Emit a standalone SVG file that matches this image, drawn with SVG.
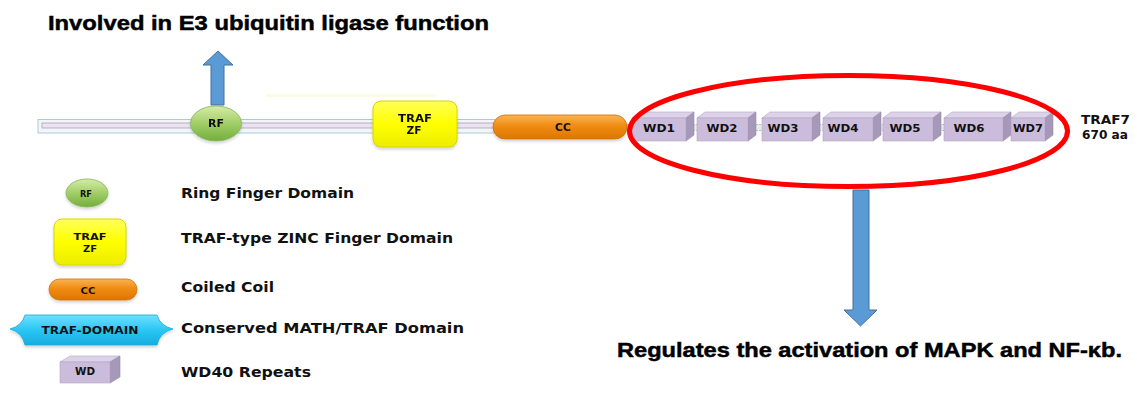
<svg xmlns="http://www.w3.org/2000/svg" width="1137" height="403" viewBox="0 0 1137 403">
<defs>
<linearGradient id="gGreen" x1="0" y1="0" x2="0" y2="1"><stop offset="0" stop-color="#d6eca6"/><stop offset="0.55" stop-color="#9ccb62"/><stop offset="1" stop-color="#74ad3e"/></linearGradient>
<linearGradient id="gYellow" x1="0" y1="0" x2="0" y2="1"><stop offset="0" stop-color="#ffff5a"/><stop offset="0.5" stop-color="#ffff00"/><stop offset="1" stop-color="#ecec00"/></linearGradient>
<linearGradient id="gOrange" x1="0" y1="0" x2="0" y2="1"><stop offset="0" stop-color="#f9b455"/><stop offset="0.45" stop-color="#f08c12"/><stop offset="1" stop-color="#dc7600"/></linearGradient>
<linearGradient id="gCyan" x1="0" y1="0" x2="0" y2="1"><stop offset="0" stop-color="#6fe0ff"/><stop offset="0.5" stop-color="#2cc6f4"/><stop offset="1" stop-color="#14addf"/></linearGradient>
<filter id="sh" x="-20%" y="-20%" width="140%" height="160%"><feGaussianBlur in="SourceAlpha" stdDeviation="1.5"/><feOffset dy="2" result="b"/><feFlood flood-color="#000" flood-opacity="0.18"/><feComposite in2="b" operator="in"/><feMerge><feMergeNode/><feMergeNode in="SourceGraphic"/></feMerge></filter>
</defs>
<style>
.lbl{font-family:"DejaVu Sans","Verdana",sans-serif;font-weight:bold;fill:#111;}
.big{font-family:"Liberation Sans",Arial,sans-serif;font-weight:bold;fill:#000;stroke:#000;stroke-width:0.5;}
.wdf{fill:#cbbcdb;stroke:#b2a4c4;stroke-width:0.6;}
.wdt{fill:#ddd3e9;stroke:#b2a4c4;stroke-width:0.6;}
.wds{fill:#a698b8;stroke:#9a8cae;stroke-width:0.6;}
.arrow{fill:#5b9bd5;stroke:#41719c;stroke-width:1;}
.rf{fill:url(#gGreen);stroke:#86b85a;stroke-width:0.8;}
.zf{fill:url(#gYellow);stroke:#d6d600;stroke-width:1;}
.cc{fill:url(#gOrange);stroke:#d07000;stroke-width:0.8;}
</style>
<rect width="1137" height="403" fill="#fff"/>

<text class="big" x="48" y="30" font-size="21" textLength="441" lengthAdjust="spacingAndGlyphs">Involved in E3 ubiquitin ligase function</text>

<rect x="266" y="94" width="170" height="3" fill="#fdfbe6"/>

<g id="backbone">
<rect x="38" y="119.5" width="458" height="13.5" fill="#f3f5f9" stroke="#a9c9e3" stroke-width="1"/>
<rect x="42" y="123" width="452" height="5" fill="#ebe3f0" stroke="#a8a2b2" stroke-width="0.8"/>
<rect x="615" y="124.5" width="400" height="6" fill="#e6ecec" stroke="#9fb6b6" stroke-width="0.8" stroke-dasharray="2 1"/>
</g>

<g id="connectors">
<polygon class="arrow" points="211,105 211,65 203,65 218,51 233,65 224,65 224,105"/>
<polygon class="arrow" points="853,190 869,190 869,310 877,310 860.5,326 844,310 853,310"/>
</g>

<g id="rf" filter="url(#sh)">
<ellipse class="rf" cx="216" cy="123.5" rx="25.5" ry="17.5"/>
<text class="lbl" x="216" y="127.3" font-size="10" text-anchor="middle" textLength="16" lengthAdjust="spacingAndGlyphs">RF</text>
</g>

<g id="traf-zf" filter="url(#sh)">
<rect class="zf" x="373" y="101" width="84" height="46" rx="8"/>
<text class="lbl" x="415" y="121.7" font-size="10" text-anchor="middle" textLength="34" lengthAdjust="spacingAndGlyphs">TRAF</text>
<text class="lbl" x="414" y="134" font-size="10" text-anchor="middle" textLength="15" lengthAdjust="spacingAndGlyphs">ZF</text>
</g>

<g id="cc" filter="url(#sh)">
<rect class="cc" x="493" y="115" width="134" height="24" rx="12"/>
<text class="lbl" x="563" y="130.5" font-size="10" text-anchor="middle" textLength="16" lengthAdjust="spacingAndGlyphs">CC</text>
</g>

<g id="wd1"><polygon class="wdt" points="632,118 640,112 694,112 686,118"/><polygon class="wds" points="686,118 694,112 694,135 686,141"/><rect class="wdf" x="632" y="118" width="54" height="23"/><text class="lbl" x="659" y="131.7" font-size="11" text-anchor="middle" textLength="32" lengthAdjust="spacingAndGlyphs">WD1</text></g>
<g id="wd2"><polygon class="wdt" points="697,118 705,112 756,112 748,118"/><polygon class="wds" points="748,118 756,112 756,135 748,141"/><rect class="wdf" x="697" y="118" width="51" height="23"/><text class="lbl" x="722" y="131.7" font-size="11" text-anchor="middle" textLength="31" lengthAdjust="spacingAndGlyphs">WD2</text></g>
<g id="wd3"><polygon class="wdt" points="762,118 770,112 820,112 812,118"/><polygon class="wds" points="812,118 820,112 820,135 812,141"/><rect class="wdf" x="762" y="118" width="50" height="23"/><text class="lbl" x="783" y="131.7" font-size="11" text-anchor="middle" textLength="31" lengthAdjust="spacingAndGlyphs">WD3</text></g>
<g id="wd4"><polygon class="wdt" points="823,118 831,112 881,112 873,118"/><polygon class="wds" points="873,118 881,112 881,135 873,141"/><rect class="wdf" x="823" y="118" width="50" height="23"/><text class="lbl" x="843" y="131.7" font-size="11" text-anchor="middle" textLength="31" lengthAdjust="spacingAndGlyphs">WD4</text></g>
<g id="wd5"><polygon class="wdt" points="883,118 891,112 941,112 933,118"/><polygon class="wds" points="933,118 941,112 941,135 933,141"/><rect class="wdf" x="883" y="118" width="50" height="23"/><text class="lbl" x="905" y="131.7" font-size="11" text-anchor="middle" textLength="31" lengthAdjust="spacingAndGlyphs">WD5</text></g>
<g id="wd6"><polygon class="wdt" points="944,118 952,112 1011,112 1003,118"/><polygon class="wds" points="1003,118 1011,112 1011,135 1003,141"/><rect class="wdf" x="944" y="118" width="59" height="23"/><text class="lbl" x="969" y="131.7" font-size="11" text-anchor="middle" textLength="31" lengthAdjust="spacingAndGlyphs">WD6</text></g>
<g id="wd7"><polygon class="wdt" points="1011,118 1019,112 1053,112 1045,118"/><polygon class="wds" points="1045,118 1053,112 1053,135 1045,141"/><rect class="wdf" x="1011" y="118" width="34" height="23"/><text class="lbl" x="1028" y="131.7" font-size="11" text-anchor="middle" textLength="30" lengthAdjust="spacingAndGlyphs">WD7</text></g>

<g id="highlight">
<ellipse cx="848.5" cy="131" rx="219" ry="55.5" fill="none" stroke="#ff0000" stroke-width="5"/>
</g>

<g id="traf7-label">
<text class="lbl" x="1081" y="124" font-size="12.5" textLength="49" lengthAdjust="spacingAndGlyphs">TRAF7</text>
<text class="lbl" x="1082" y="138.5" font-size="12.5" textLength="46" lengthAdjust="spacingAndGlyphs">670 aa</text>
</g>

<text class="big" x="617" y="357" font-size="21" textLength="505" lengthAdjust="spacingAndGlyphs">Regulates the activation of MAPK and NF-κb.</text>

<g id="legend-rf">
<ellipse class="rf" cx="87" cy="193" rx="21" ry="14" filter="url(#sh)"/>
<text class="lbl" x="86" y="196.5" font-size="9" text-anchor="middle" textLength="12" lengthAdjust="spacingAndGlyphs">RF</text>
<text class="lbl" x="181" y="197.5" font-size="13.5" textLength="173" lengthAdjust="spacingAndGlyphs">Ring Finger Domain</text>
</g>

<g id="legend-zf">
<rect class="zf" x="54" y="219" width="72" height="46" rx="8" filter="url(#sh)"/>
<text class="lbl" x="90" y="240" font-size="9.5" text-anchor="middle" textLength="33" lengthAdjust="spacingAndGlyphs">TRAF</text>
<text class="lbl" x="90" y="252" font-size="9.5" text-anchor="middle" textLength="14" lengthAdjust="spacingAndGlyphs">ZF</text>
<text class="lbl" x="181" y="243" font-size="13.5" textLength="272" lengthAdjust="spacingAndGlyphs">TRAF-type ZINC Finger Domain</text>
</g>

<g id="legend-cc">
<rect class="cc" x="49" y="279" width="88" height="21" rx="10.5" filter="url(#sh)"/>
<text class="lbl" x="88" y="293.5" font-size="9.5" text-anchor="middle" textLength="15" lengthAdjust="spacingAndGlyphs">CC</text>
<text class="lbl" x="181" y="292" font-size="13.5" textLength="93" lengthAdjust="spacingAndGlyphs">Coiled Coil</text>
</g>

<g id="legend-traf-domain">
<path d="M25,315 L157,315 Q160,326 173,329 Q160,332 157,345 L25,345 Q22,332 10,329 Q22,326 25,315 Z" fill="url(#gCyan)" stroke="#19a9d9" stroke-width="0.8" filter="url(#sh)"/>
<text class="lbl" x="90" y="334.3" font-size="10" text-anchor="middle" textLength="97" lengthAdjust="spacingAndGlyphs">TRAF-DOMAIN</text>
<text class="lbl" x="181" y="333" font-size="13.5" textLength="283" lengthAdjust="spacingAndGlyphs">Conserved MATH/TRAF Domain</text>
</g>

<g id="legend-wd">
<polygon class="wdt" points="60,362 70,356 120,356 110,362"/>
<polygon class="wds" points="110,362 120,356 120,377 110,383"/>
<rect class="wdf" x="60" y="362" width="50" height="21"/>
<text class="lbl" x="85" y="374.5" font-size="10" text-anchor="middle" textLength="20" lengthAdjust="spacingAndGlyphs">WD</text>
<text class="lbl" x="181" y="377" font-size="13.5" textLength="130" lengthAdjust="spacingAndGlyphs">WD40 Repeats</text>
</g>
</svg>
